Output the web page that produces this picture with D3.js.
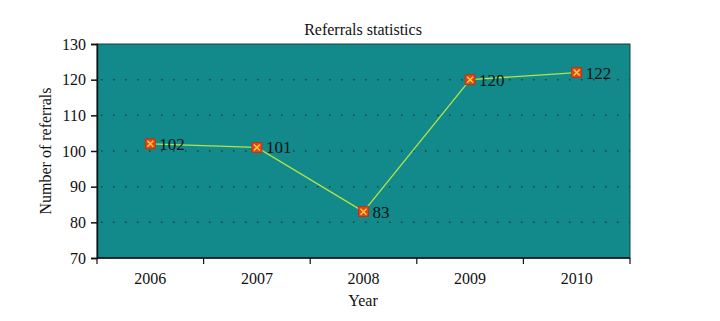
<!DOCTYPE html>
<html>
<head>
<meta charset="utf-8">
<script src="https://cdn.jsdelivr.net/npm/d3@7"></script>
<style>
  body { margin: 0; background: #fff; }
  text { font-family: "Liberation Serif", "DejaVu Serif", serif; fill: #111; }
</style>
</head>
<body>
<div id="chart"></div>
<script>
const years = ["2006", "2007", "2008", "2009", "2010"];
const referrals = [102, 101, 83, 120, 122];
const yTicks = [70, 80, 90, 100, 110, 120, 130];

const width = 720;
const height = 321;
const margins = [44, 90, 63, 97]; // top, right, bottom, left

const [mt, mr, mb, ml] = margins;

const svg = d3.select("#chart")
  .append("svg")
  .attr("width", width)
  .attr("height", height)
  .style("display", "block");

const x = d3.scaleBand()
  .domain(years)
  .range([ml, width - mr]);

const y = d3.scaleLinear()
  .domain([70, 130])
  .range([height - mb, mt]);

// plot background
svg.append("rect")
  .attr("x", ml)
  .attr("y", mt)
  .attr("width", width - mr - ml)
  .attr("height", height - mb - mt)
  .attr("fill", "#128a8c")
  .attr("stroke", "#1d3b3c")
  .attr("stroke-width", 1);

// dotted grid
svg.append("g")
  .selectAll("line")
  .data(yTicks.filter((d) => d > 70 && d < 130))
  .join("line")
  .attr("x1", ml + 4)
  .attr("x2", width - mr)
  .attr("y1", (d) => y(d))
  .attr("y2", (d) => y(d))
  .attr("stroke", "#1f3f40")
  .attr("stroke-width", 1.5)
  .attr("stroke-dasharray", "1.5,10.5");

// y axis
const yAxis = svg.append("g")
  .attr("transform", `translate(${ml}, 0)`)
  .call(d3.axisLeft(y).tickValues(yTicks).tickSize(6).tickPadding(5));
yAxis.select(".domain").attr("stroke", "#111").attr("stroke-width", 1.5);
yAxis.selectAll(".tick line").attr("stroke", "#111").attr("stroke-width", 1.5);
yAxis.selectAll("text")
  .style("font-size", "16px")
  .style("font-family", "Liberation Serif, serif")
  .attr("fill", "#111");

// x axis: ticks at band boundaries
const xAxis = svg.append("g")
  .attr("transform", `translate(0, ${height - mb})`);
xAxis.append("line")
  .attr("x1", ml)
  .attr("x2", width - mr)
  .attr("stroke", "#111")
  .attr("stroke-width", 1.5);
const bounds = years.map((d) => x(d)).concat([x(years[years.length - 1]) + x.bandwidth()]);
xAxis.selectAll(".xt")
  .data(bounds)
  .join("line")
  .attr("class", "xt")
  .attr("x1", (d) => d)
  .attr("x2", (d) => d)
  .attr("y1", 0)
  .attr("y2", 6)
  .attr("stroke", "#111")
  .attr("stroke-width", 1.2);
xAxis.selectAll(".xl")
  .data(years)
  .join("text")
  .attr("class", "xl")
  .attr("x", (d) => x(d) + x.bandwidth() / 2)
  .attr("y", 26)
  .attr("text-anchor", "middle")
  .style("font-size", "16px")
  .text((d) => d);

// line
const pts = years.map((d, i) => [x(d) + x.bandwidth() / 2, y(referrals[i])]);
svg.append("path")
  .datum(pts)
  .attr("fill", "none")
  .attr("stroke", "#b2e444")
  .attr("stroke-width", 1.3)
  .attr("d", d3.line());

// markers
const mk = svg.append("g")
  .selectAll("g")
  .data(pts)
  .join("g")
  .attr("transform", (d) => `translate(${d[0]}, ${d[1]})`);
mk.append("rect")
  .attr("x", -5)
  .attr("y", -5)
  .attr("width", 10)
  .attr("height", 10)
  .attr("fill", "#e2461c")
  .attr("stroke", "#b8330f")
  .attr("stroke-width", 0.8);
mk.append("path")
  .attr("d", "M-3,-3L3,3M-3,3L3,-3")
  .attr("stroke", "#ffd23a")
  .attr("stroke-width", 1.4);

// data labels
svg.append("g")
  .selectAll("text")
  .data(pts)
  .join("text")
  .attr("x", (d) => d[0] + 9)
  .attr("y", (d) => d[1] + 6)
  .style("font-size", "17px")
  .text((d, i) => referrals[i]);

// title and axis labels
svg.append("text")
  .attr("x", 363)
  .attr("y", 35)
  .attr("text-anchor", "middle")
  .style("font-size", "16px")
  .text("Referrals statistics");

svg.append("text")
  .attr("x", 363)
  .attr("y", 306)
  .attr("text-anchor", "middle")
  .style("font-size", "16px")
  .text("Year");

svg.append("text")
  .attr("transform", "rotate(-90)")
  .attr("x", -(mt + (height - mb - mt) / 2))
  .attr("y", 51)
  .attr("text-anchor", "middle")
  .style("font-size", "16px")
  .text("Number of referrals");
</script>
</body>
</html>
